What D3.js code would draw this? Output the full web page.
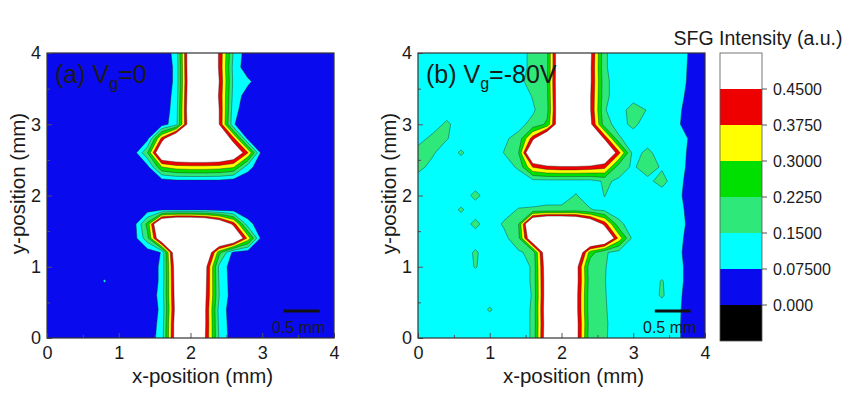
<!DOCTYPE html>
<html>
<head>
<meta charset="utf-8">
<script src="https://cdn.jsdelivr.net/npm/d3@7"></script>
<style>
body { margin: 0; background: #fff; }
text { font-family: "Liberation Sans", Arial, sans-serif; fill: #1a1a1a; }
</style>
</head>
<body>
<svg id="chart" width="854" height="399"></svg>
<script>
// SFG intensity maps, in units of 0.01 a.u.
// rows run from y = 4 mm (top) down to y = 0 mm, columns from x = 0 to 4 mm, every 0.2 mm
const gridA = [
	[3,3,3,3,3,3,3,3,3,10,57,62,44,14,3,3,3,3,3,3,3],
	[3,3,3,3,3,3,3,3,3,9,57,62,44,12,3,3,3,3,3,3,3],
	[3,3,3,3,3,3,3,3,3,9,56,62,45,13,9,3,3,3,3,3,3],
	[3,3,3,3,3,3,3,3,3,10,57,62,44,12,4,3,3,3,3,3,3],
	[3,3,3,3,3,3,3,3,3,11,58,62,45,10,3,3,3,3,3,3,3],
	[3,3,3,3,3,3,3,3,4,12,56,62,45,8,3,3,3,3,3,3,3],
	[3,3,3,3,3,3,3,5,40,65,66,66,62,40,5,3,3,3,3,3,3],
	[3,3,3,3,3,3,3,22,62,65,66,66,65,58,38,3,3,3,3,3,3],
	[3,3,3,3,3,3,3,5,30,34,35,35,34,31,10,3,3,3,3,3,3],
	[3,3,3,3,3,3,3,3,3,5,5,5,5,3,3,3,3,3,3,3,3],
	[3,3,3,3,3,3,3,3,3,3,3,3,3,3,3,3,3,3,3,3,3],
	[3,3,3,3,3,3,3,4,6,6,6,6,5,4,3,3,3,3,3,3,3],
	[3,3,3,3,3,3,3,25,70,80,80,75,62,42,10,3,3,3,3,3,3],
	[3,3,3,3,3,3,3,20,60,75,75,75,72,65,35,3,3,3,3,3,3],
	[3,3,3,3,3,3,3,3,8,58,70,62,25,5,3,3,3,3,3,3,3],
	[3,3,3,3,3,3,3,3,9,53,66,50,13,3,3,3,3,3,3,3,3],
	[3,3,3,3,8,3,3,3,9,52,65,49,14,3,3,3,3,3,3,3,3],
	[3,3,3,3,3,3,3,3,10,51,64,48,15,3,3,3,3,3,3,3,3],
	[3,3,3,3,3,3,3,3,9,50,64,47,12,3,3,3,3,3,3,3,3],
	[3,3,3,3,3,3,3,3,10,52,65,47,13,3,3,3,3,3,3,3,3],
	[3,3,3,3,3,3,3,3,11,52,63,46,14,3,3,3,3,3,3,3,3]
];

const gridB = [
	[11,11,11,11,11,11,11,12,17,21,62,65,48,16,11,11,11,11,11.5,6.5,4],
	[11,11,11,11,11,11,11,12,17,21,62,65,47,16,11,11,11,11,11,6.3,4],
	[11,11,11,11,11,11,11,13,18,22,62,64,47,17,11,11,11,11,11,6,4],
	[11,11,11,11,11,11,11,11,15.5,21,62,64,46,17,11,11,11,11,10,5.5,4],
	[11,11,11,11,11,11,11,11,14,20,62,64,46,15.5,11,19,14.5,11,9,5,4],
	[11,11,16.5,11,11,11,11,13,17,24,60,64,48,18,12,17,11,11,8.5,5,4],
	[12,17,15.5,11,11,11,14,17,42,66,68,68,62,44,16,11,11,11,11.5,6.5,4],
	[18,16,11,16,11,11,15.2,22,66,70,70,70,70,62,40,12,17,11,11,6,4],
	[17,13,11,11,11,11,12,16,38,43,44,44,43,40,18,14,19,14,11,5.5,4],
	[12,11,11,11,11,11,11,11,12,12,12,12,12,16,14,11,13,18,10,5,4],
	[11,11,11,11,17,11,11,11,11,11,11,15.5,11,15.2,11,11,11,11,9.5,4.5,4],
	[11,11,11,16,11,11,12,15.5,16,17,17,18,15.5,13,11,11,11,11,10.5,5,4],
	[11,11,11,11,17,11,16,22,70,80,80,76,62,42,17,11,11,11,11,5.5,4],
	[11,11,11,11,11,11,13,20,60,75,75,75,72,65,35,12,11,11,10,5,4],
	[11,11,11,11,16,11,11,14,17,58,70,62,26,16,12,11,11,11,9.5,4.5,4],
	[11,11,11,11,15.5,11,11,11,16,55,66,50,17,15.5,11,11,11,11,10,5,4],
	[11,11,11,11,11,11,11,11,16,54,65,50,18,15.3,11,11,11,15.5,10,5,4],
	[11,11,11,11,11,11,11,11,15.5,54,65,49,17,15.5,11,11,11,16,9.5,4.5,4],
	[11,11,11,11,11,15.8,11,11,16,55,64,49,17,15.8,11,11,11,11,9,4.5,4],
	[11,11,11,11,11,11,11,11,16,54,65,50,18,16.2,11,11,11,11,9,4,4],
	[11,11,11,11,11,11,11,11,16,55,64,50,17,16,11,11,11,11,9,4,4]
];

const levels = [0, 0.075, 0.15, 0.225, 0.3, 0.375, 0.45];
const levelLabels = ["0.000", "0.07500", "0.1500", "0.2250", "0.3000", "0.3750", "0.4500"];
// colour below 0, then one colour above each level
const bandColors = ["#000000", "#0a0aef", "#00ffff", "#2ee87a", "#00e000", "#ffff00", "#ee0000", "#ffffff"];
const ticks = [0, 1, 2, 3, 4];
const minorTicks = [0.5, 1.5, 2.5, 3.5];
const step = 0.2;

const W = 287, H = 285, plotTop = 53;

let svg = d3.select("#chart");

let x = d3.scaleLinear().domain([0, 4]).range([0, W]);
let y = d3.scaleLinear().domain([0, 4]).range([H, 0]);

const drawPanel = (left, grid, name, sub, rest) => {
	let g = svg.append("g").attr("transform", `translate(${left}, ${plotTop})`);
	const n = grid[0].length, m = grid.length;
	const values = grid.flat().map(v => v / 100);
	const contours = d3.contours().size([n, m]).thresholds(levels)(values);

	// grid point i sits at contour coordinate i + 0.5
	const proj = d3.geoTransform({
		point: function(px, py) {
			this.stream.point(x((px - 0.5) * step), y(4 - (py - 0.5) * step));
		}
	});
	const path = d3.geoPath(proj);

	const clipId = "clip" + left;
	g.append("clipPath").attr("id", clipId)
		.append("rect").attr("width", W).attr("height", H);

	let maps = g.append("g").attr("clip-path", `url(#${clipId})`);
	maps.append("rect")
		.attr("width", W).attr("height", H)
		.attr("fill", bandColors[0]);
	maps.selectAll("path")
		.data(contours)
		.join("path")
			.attr("d", path)
			.attr("fill", (d, i) => bandColors[i + 1])
			.attr("stroke", (d, i) => i ? "#222" : "none")
			.attr("stroke-opacity", 0.45)
			.attr("stroke-width", 0.9)
			.attr("stroke-linejoin", "round");

	// minor ticks
	g.append("g")
		.attr("transform", `translate(0,${H})`)
		.call(d3.axisBottom(x).tickValues(minorTicks).tickSize(-3).tickFormat(""))
		.call(a => a.select(".domain").remove());
	g.append("g")
		.call(d3.axisLeft(y).tickValues(minorTicks).tickSize(-3).tickFormat(""))
		.call(a => a.select(".domain").remove());

	// major ticks
	let xa = g.append("g")
		.attr("transform", `translate(0,${H})`)
		.call(d3.axisBottom(x).tickValues(ticks).tickSize(-5).tickPadding(8).tickFormat(d3.format("d")));
	let ya = g.append("g")
		.call(d3.axisLeft(y).tickValues(ticks).tickSize(-5).tickPadding(6).tickFormat(d3.format("d")));
	[xa, ya].forEach(a => {
		a.select(".domain").remove();
		a.selectAll("text").style("font-size", "18px").attr("fill", "#1a1a1a");
	});
	g.selectAll(".tick line").attr("stroke", "#555");

	g.append("rect")
		.attr("width", W).attr("height", H)
		.attr("fill", "none")
		.attr("stroke", "#333")
		.attr("stroke-width", 1.2);

	g.append("text")
		.attr("x", W / 2 + 12).attr("y", H + 45)
		.attr("text-anchor", "middle")
		.style("font-size", "20.5px")
		.text("x-position (mm)");
	g.append("text")
		.attr("transform", `translate(-22.5,${H / 2 - 12}) rotate(-90)`)
		.attr("text-anchor", "middle")
		.style("font-size", "20.5px")
		.text("y-position (mm)");

	// panel label
	let lab = g.append("text")
		.attr("x", 8).attr("y", 30)
		.style("font-size", "25px");
	lab.append("tspan").text(name);
	lab.append("tspan").attr("dy", 6).style("font-size", "16px").text(sub);
	lab.append("tspan").attr("dy", -6).text(rest);

	// 0.5 mm scale bar
	g.append("line")
		.attr("x1", x(3.3)).attr("x2", x(3.8))
		.attr("y1", 258).attr("y2", 258)
		.attr("stroke", "#111").attr("stroke-width", 3);
	g.append("text")
		.attr("x", 225).attr("y", 280)
		.style("font-size", "16px")
		.attr("fill", "#111")
		.text("0.5 mm");
}

drawPanel(47, gridA, "(a) V", "g", "=0");
drawPanel(418, gridB, "(b) V", "g", "=-80V");

// colour bar
let cbX = 720, cbW = 42;
let cbY = d3.scaleLinear().domain([0, bandColors.length]).range([341, 53]);
let cb = svg.append("g");
cb.selectAll("rect")
	.data(bandColors)
	.join("rect")
		.attr("x", cbX)
		.attr("y", (d, i) => cbY(i + 1))
		.attr("width", cbW)
		.attr("height", (d, i) => cbY(i) - cbY(i + 1))
		.attr("fill", d => d);
cb.append("rect")
	.attr("x", cbX).attr("y", cbY(bandColors.length))
	.attr("width", cbW).attr("height", cbY(0) - cbY(bandColors.length))
	.attr("fill", "none").attr("stroke", "#555").attr("stroke-width", 0.8);
cb.selectAll("line")
	.data(levels)
	.join("line")
		.attr("x1", cbX + cbW).attr("x2", cbX + cbW + 5)
		.attr("y1", (d, i) => cbY(i + 1)).attr("y2", (d, i) => cbY(i + 1))
		.attr("stroke", "#555");
cb.selectAll("text.lvl")
	.data(levelLabels)
	.join("text")
		.attr("class", "lvl")
		.attr("x", cbX + cbW + 11)
		.attr("y", (d, i) => cbY(i + 1) + 6)
		.style("font-size", "16px")
		.text(d => d);
svg.append("text")
	.attr("x", 758).attr("y", 45)
	.attr("text-anchor", "middle")
	.style("font-size", "19.5px")
	.text("SFG Intensity (a.u.)");
</script>
</body>
</html>
